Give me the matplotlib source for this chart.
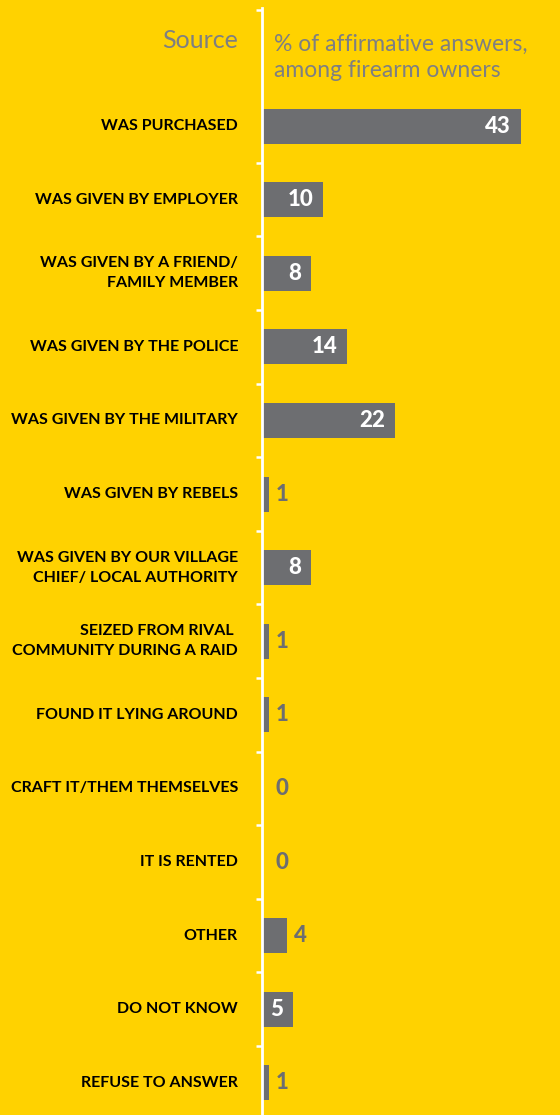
import matplotlib.pyplot as plt
import matplotlib.transforms as mtransforms
import numpy as np

# Datos
categories = [
    "WAS PURCHASED",
    "WAS GIVEN BY EMPLOYER",
    "WAS GIVEN BY A FRIEND/\nFAMILY MEMBER",
    "WAS GIVEN BY THE POLICE",
    "WAS GIVEN BY THE MILITARY",
    "WAS GIVEN BY REBELS",
    "WAS GIVEN BY OUR VILLAGE\nCHIEF/ LOCAL AUTHORITY",
    "SEIZED FROM RIVAL \nCOMMUNITY DURING A RAID",
    "FOUND IT LYING AROUND",
    "CRAFT IT/THEM THEMSELVES",
    "IT IS RENTED",
    "OTHER",
    "DO NOT KNOW",
    "REFUSE TO ANSWER",
]
values = [43, 10, 8, 14, 22, 1, 8, 1, 1, 0, 0, 4, 5, 1]

header_left = "Source"
header_right = "% of affirmative answers,\namong firearm owners"

YELLOW = "#FFD200"
GREY = "#6D6E71"
HEAD_GREY = "#7E7F82"

W, H = 560, 1115
fig = plt.figure(figsize=(W / 100, H / 100), dpi=100)
fig.patch.set_facecolor(YELLOW)

# Eje: linea blanca en x=262 px, desde y=8 px hasta abajo
ax = fig.add_axes([262 / W, 0, (W - 262) / W, (H - 8) / H])
ax.set_facecolor(YELLOW)

px_per_unit = 6.0
row_px = 73.6
ax_h_px = H - 8
top = -(126 - 8) / row_px
ax.set_xlim(0, (W - 262) / px_per_unit)
ax.set_ylim(top + ax_h_px / row_px, top)

y = np.arange(len(categories))
bar_vals = [max(v, 0) for v in values]
ax.barh(y, bar_vals, height=35 / row_px, left=0.15, color=GREY, edgecolor="none")

for s in ["top", "right", "bottom"]:
    ax.spines[s].set_visible(False)
ax.spines["left"].set_color("white")
ax.spines["left"].set_linewidth(2)

ticks = list(np.arange(len(categories) - 1) + 0.5) + [top + 2 / row_px]
ax.set_yticks(ticks)
ax.set_yticklabels([])
ax.tick_params(axis="y", length=4, width=1.8, color="white", direction="out")
ax.set_xticks([])

# Etiquetas de categoria
lab_tr = mtransforms.blended_transform_factory(fig.transFigure, ax.transData)
for yi, cat in zip(y, categories):
    fig.text(238 / W, yi, cat, transform=lab_tr, ha="right", va="center",
             fontsize=11.5, fontweight="bold", family="Lato", color="black",
             linespacing=1.55)

# Valores
for yi, v in zip(y, values):
    if v >= 5:
        ax.annotate(str(v), xy=(v, yi), xytext=(-9, 0), textcoords="offset pixels",
                    ha="right", va="center", fontsize=16, fontweight="black",
                    family="Lato", color="white")
    else:
        ax.annotate(str(v), xy=(max(v, 1) + 0.15, yi), xytext=(7, 0),
                    textcoords="offset pixels", ha="left", va="center",
                    fontsize=16, fontweight="black", family="Lato", color=GREY)

# Cabecera
fig.text(238 / W, 1 - 41 / H, header_left, ha="right", va="center",
         fontsize=18, family="Lato", color=HEAD_GREY)
fig.text(274 / W, 1 - 57 / H, header_right, ha="left", va="center",
         fontsize=16.5, family="Lato", color=HEAD_GREY, linespacing=1.3)

fig.savefig("out.png", dpi=100, facecolor=YELLOW)
